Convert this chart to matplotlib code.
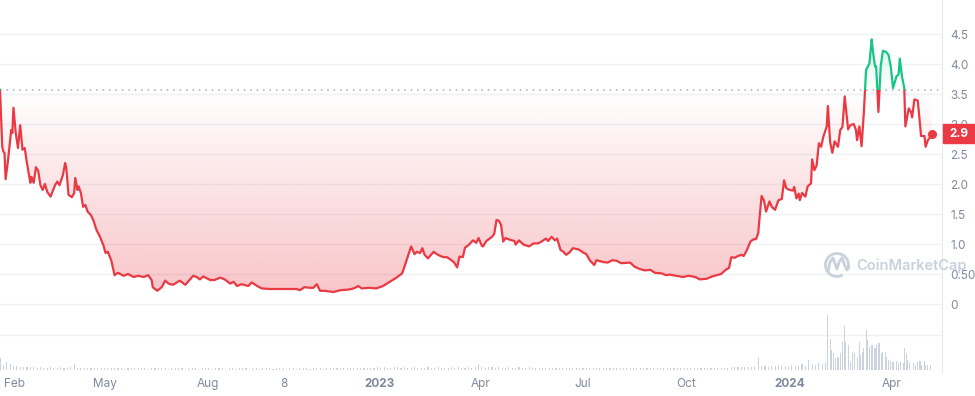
import numpy as np
import matplotlib
matplotlib.use("Agg")
import matplotlib.pyplot as plt
from matplotlib.patches import Rectangle, Arc
from matplotlib.lines import Line2D
from matplotlib.transforms import blended_transform_factory

plt.rcParams['font.family'] = ['Inter', 'DejaVu Sans']

RED = '#ea3943'
GREEN = '#16c784'
GRID = '#eff2f5'
TXT = '#808a9d'

# Data (days since 2022-01-28, price in USD)
start_date = np.datetime64('2022-01-28')
price_days = [
    0, 2, 3, 4, 5, 7, 10, 11, 12, 14, 16, 18, 20, 22, 24, 27, 28, 30, 32, 34,
    36, 38, 40, 42, 45, 49, 51, 53, 56, 58, 59, 61, 64, 66, 67, 69, 70, 72, 74, 76,
    78, 81, 83, 86, 89, 92, 94, 96, 99, 102, 105, 110, 114, 119, 123, 128, 132, 135, 136, 140,
    144, 147, 150, 154, 160, 165, 172, 175, 178, 181, 187, 191, 196, 200, 205, 208, 211, 215, 221, 224,
    229, 233, 240, 252, 264, 267, 271, 276, 279, 282, 285, 289, 297, 303, 310, 315, 319, 322, 329, 335,
    341, 347, 353, 358, 362, 366, 369, 371, 374, 376, 378, 381, 386, 389, 392, 395, 398, 401, 404, 407,
    409, 412, 414, 417, 421, 424, 426, 429, 430, 433, 438, 440, 442, 444, 446, 448, 450, 454, 458, 459,
    462, 466, 471, 475, 479, 482, 486, 488, 491, 494, 496, 499, 501, 504, 507, 510, 515, 519, 522, 525,
    529, 531, 537, 541, 545, 549, 553, 561, 565, 570, 574, 579, 583, 589, 593, 596, 602, 608, 613, 619,
    623, 629, 634, 638, 642, 646, 649, 651, 654, 657, 660, 662, 665, 668, 671, 673, 675, 676, 678, 680,
    682, 685, 687, 690, 693, 696, 698, 700, 703, 706, 707, 709, 711, 712, 714, 717, 719, 722, 723, 725,
    727, 729, 731, 733, 736, 737, 739, 741, 743, 746, 748, 750, 752, 755, 757, 760, 762, 763, 765, 767,
    769, 771, 774, 776, 777, 779, 780, 782, 784, 786, 789, 791, 793, 795, 798, 800, 801, 803, 805, 806,
    809, 811, 812, 814, 817, 818, 820, 823, 824, 826, 828, 830,
]
prices = [
    3.57, 2.62, 2.54, 2.52, 2.08, 2.37, 2.90, 2.85, 3.27, 2.85, 2.60, 2.98, 2.57, 2.60, 2.35, 2.02, 2.12, 2.02, 2.28, 2.22,
    1.98, 1.90, 2.00, 1.87, 1.79, 1.98, 2.04, 1.98, 2.15, 2.35, 2.27, 1.82, 1.78, 1.85, 2.10, 1.90, 1.96, 1.85, 1.62, 1.65,
    1.54, 1.48, 1.40, 1.23, 1.12, 0.98, 0.85, 0.87, 0.73, 0.48, 0.52, 0.47, 0.50, 0.45, 0.47, 0.45, 0.48, 0.40, 0.28, 0.22,
    0.28, 0.39, 0.34, 0.32, 0.39, 0.32, 0.47, 0.45, 0.41, 0.46, 0.40, 0.40, 0.44, 0.41, 0.34, 0.37, 0.30, 0.33, 0.30, 0.36,
    0.30, 0.26, 0.25, 0.25, 0.25, 0.23, 0.28, 0.27, 0.27, 0.33, 0.22, 0.22, 0.20, 0.23, 0.24, 0.26, 0.30, 0.26, 0.27, 0.26,
    0.30, 0.37, 0.44, 0.51, 0.73, 0.96, 0.83, 0.87, 0.85, 0.93, 0.82, 0.76, 0.87, 0.83, 0.80, 0.78, 0.78, 0.74, 0.70, 0.61,
    0.79, 0.78, 0.94, 0.98, 1.06, 1.02, 1.10, 0.97, 0.96, 1.05, 1.12, 1.17, 1.40, 1.39, 1.32, 1.04, 1.10, 1.07, 1.05, 0.99,
    1.06, 0.99, 0.96, 1.01, 1.01, 1.04, 1.09, 1.05, 1.12, 1.06, 1.09, 0.90, 0.88, 0.82, 0.86, 0.93, 0.91, 0.86, 0.83, 0.73,
    0.65, 0.73, 0.70, 0.69, 0.73, 0.72, 0.68, 0.69, 0.62, 0.58, 0.56, 0.57, 0.52, 0.51, 0.48, 0.49, 0.47, 0.45, 0.47, 0.45,
    0.41, 0.42, 0.46, 0.48, 0.50, 0.57, 0.60, 0.78, 0.77, 0.80, 0.82, 0.80, 0.90, 1.04, 1.08, 1.08, 1.18, 1.40, 1.80, 1.73,
    1.54, 1.71, 1.62, 1.57, 1.73, 1.75, 2.06, 1.93, 1.90, 1.89, 1.95, 1.76, 1.84, 1.73, 1.85, 1.79, 1.96, 2.01, 2.41, 2.23,
    2.31, 2.68, 2.62, 2.79, 2.96, 3.30, 2.70, 2.52, 2.71, 2.62, 2.90, 2.95, 3.46, 2.91, 2.98, 3.00, 2.90, 2.73, 2.96, 2.63,
    3.18, 3.90, 4.01, 4.41, 4.23, 3.96, 3.96, 3.20, 3.96, 4.22, 4.20, 4.15, 3.96, 3.60, 3.79, 3.83, 4.09, 3.79, 3.60, 2.96,
    3.26, 3.20, 3.11, 3.41, 3.39, 3.20, 2.80, 2.80, 2.62, 2.73, 2.78, 2.84,
]
base_price = 3.57

# Volume (relative units), bars every 3 days up to day 735, then denser
vol_grid_days = list(range(0, 736, 3))
vol_grid = [
    12, 5, 8, 6, 4, 4, 3, 3, 3, 3,
    3, 2, 3, 2, 2, 3, 2, 2, 3, 2, 2, 3, 6,
    2, 2, 2, 2.5, 2, 2, 2, 2, 2, 2.5, 2, 2, 2, 2, 1.5, 2, 2, 2, 2, 2,
    2, 1.5, 2, 2, 2, 2, 2, 1.5, 2, 2, 2, 2, 1.5, 2, 2, 2, 1.5, 2, 2, 2,
    1.5, 2, 2, 2, 1.5, 2, 2, 1.5, 2, 2, 2, 1.5, 2, 2, 1.5, 2, 2, 2, 1.5, 2,
    2, 2, 1.5, 2, 2, 1.5, 2, 2, 2, 1.5, 2, 2, 2, 1.5, 2, 2, 2, 2.5, 2, 2,
    2, 2, 2, 2.5, 2, 2, 2,
    2.5, 2.5, 3, 2.5, 3, 2.5, 2.5, 3, 3, 2.5, 3, 2.5, 2.5, 3, 2.5, 2.5, 2.5, 3, 2.5, 2.5,
    3, 2.5, 2.5, 2.5, 3, 2.5, 3, 2.5, 2.5, 3, 2.5, 3, 6, 3, 2.5, 3, 3, 2.5, 3, 2.5,
    2.5, 3, 2.5, 2.5, 3, 2.5, 2.5, 3, 2.5, 2.5, 2.5,
    2, 2, 2.5, 2, 2, 2, 2, 2.5, 2, 2, 2, 2, 2, 2.5, 2, 2, 2, 2, 2, 2,
    2, 2.5, 2, 2, 2, 2, 2, 2, 2.5, 2, 2, 2, 2, 2, 2, 2, 2.5, 2, 2, 2,
    2, 2, 2, 2, 2.5, 2, 2, 2, 2, 2, 2, 2, 2, 2, 2, 2,
    3, 3, 3, 3, 3, 3, 3, 3, 12, 4, 4, 3, 4, 4, 5, 4, 4, 4, 5, 4,
    4, 6, 4, 10, 6, 5, 7, 6, 8,
]
vol_tail_days = [737, 739, 740, 742, 744, 746, 748, 750, 752, 753, 755, 757, 759, 761, 763, 765, 766, 768, 769, 771,
                 772, 774, 776, 777, 779, 780, 782, 783, 785, 786, 788, 789, 791, 793, 795, 798, 800, 802, 804, 805,
                 807, 808, 810, 813, 815, 817, 819, 820, 823, 824, 826, 828]
vol_tail = [55, 31, 20, 17, 12, 13, 17, 29, 44, 28, 25, 8, 18, 17, 13, 28, 15, 18, 22, 40,
            30, 23, 25, 25, 22, 25, 27, 27, 17, 18, 18, 13, 10, 9, 8, 9, 7, 8, 7, 22,
            17, 10, 7, 7, 5, 8, 9, 5, 9, 5, 5, 5]

y_ticks = [0, 0.5, 1.0, 1.5, 2.0, 2.5, 3.0, 3.5, 4.0, 4.5]
y_labels = ['0', '0.50', '1.0', '1.5', '2.0', '2.5', '3.0', '3.5', '4.0', '4.5']
x_tick_dates = ['2022-02-01', '2022-05-01', '2022-08-01', '2022-10-08', '2023-01-01',
                '2023-04-01', '2023-07-01', '2023-10-01', '2024-01-01', '2024-04-01']
x_labels = ['Feb', 'May', 'Aug', '8', '2023', 'Apr', 'Jul', 'Oct', '2024', 'Apr']

days = np.array(price_days, dtype=float)
p = np.array(prices)
vol_days = np.array(vol_grid_days + vol_tail_days, dtype=float)
vol = np.array(vol_grid + vol_tail, dtype=float)

fig = plt.figure(figsize=(9.75, 3.96), dpi=100)
rect = [0, 1 - 372 / 396, 942 / 975, 372 / 396]
ax = fig.add_axes(rect)
ax_v = fig.add_axes(rect, sharex=ax)
ax_v.patch.set_visible(False)
ax_v.axis('off')

x_end = 838.6
ax.set_xlim(0, x_end)
ax.set_ylim(-1.1333, 5.0667)
ax_v.set_ylim(-2, 370)

# grid
for g in [-0.5167] + y_ticks:
    ax.axhline(g, color=GRID, lw=1, zorder=0)

# volume
ax_v.bar(vol_days, vol, width=1.0, color='#cbd3df', linewidth=0)

# gradient fills clipped to area between line and baseline
red_poly = ax.fill_between(days, np.minimum(p, base_price), base_price, color='none', lw=0)
green_poly = ax.fill_between(days, np.maximum(p, base_price), base_price, color='none', lw=0)

n = 256
grad = np.zeros((n, 1, 4))
grad[:, 0, :3] = matplotlib.colors.to_rgb(RED)
grad[:, 0, 3] = np.linspace(0.30, 0.0, n)
im_r = ax.imshow(grad, extent=[0, x_end, 0.1, base_price], origin='lower', aspect='auto', zorder=1)
im_r.set_clip_path(red_poly.get_paths()[0], transform=ax.transData)

grad_g = np.zeros((n, 1, 4))
grad_g[:, 0, :3] = matplotlib.colors.to_rgb(GREEN)
grad_g[:, 0, 3] = np.linspace(0.0, 0.18, n)
im_g = ax.imshow(grad_g, extent=[0, x_end, base_price, 4.45], origin='lower', aspect='auto', zorder=1)
im_g.set_clip_path(green_poly.get_paths()[0], transform=ax.transData)

ax.set_xlim(0, x_end)
ax.set_ylim(-1.1333, 5.0667)

# baseline
ax.axhline(base_price, color='#a6adb9', lw=1.1, linestyle=(0, (1, 3.2)), zorder=2)

# price line, coloured by side of baseline
ln_r, = ax.plot(days, p, color=RED, lw=1.6, zorder=3, solid_joinstyle='round')
clip_r = Rectangle((0, -5), 1000, base_price + 5, transform=ax.transData)
ln_r.set_clip_path(clip_r)
ln_g, = ax.plot(days, p, color=GREEN, lw=1.6, zorder=3, solid_joinstyle='round')
clip_g = Rectangle((0, base_price), 1000, 10, transform=ax.transData)
ln_g.set_clip_path(clip_g)
ax.plot(days[-1], p[-1], 'o', color=RED, ms=5.5, zorder=4)

# axes styling
for s in ['top', 'left', 'bottom']:
    ax.spines[s].set_visible(False)
ax.spines['right'].set_color('#e6e9ee')
ax.patch.set_visible(False)
ax.yaxis.tick_right()
ax.set_yticks(y_ticks)
ax.set_yticklabels(y_labels)
ax.tick_params(axis='y', length=0, pad=6, labelsize=8.5, labelcolor=TXT)

tick_days = [(np.datetime64(d) - start_date).astype(int) for d in x_tick_dates]
ax.set_xticks(tick_days)
ax.set_xticklabels(x_labels)
ax.tick_params(axis='x', length=0, pad=4, labelsize=8.5, labelcolor=TXT)
for lbl in ax.get_xticklabels():
    if lbl.get_text() in ('2023', '2024'):
        lbl.set_fontweight('bold')
ax.get_xticklabels()[0].set_horizontalalignment('left')

# last price tag
bt = blended_transform_factory(ax.transAxes, ax.transData)
tag = Rectangle((1.001, p[-1] - 0.158), 0.036, 0.317, transform=bt, color=RED,
                clip_on=False, zorder=10)
ax.add_patch(tag)
ax.text(1.018, p[-1], '2.9', transform=bt, color='white', fontsize=8.5, fontweight='bold',
        ha='center', va='center', zorder=11, clip_on=False)

# watermark (drawn in inches from the bottom-left corner)
wm = '#c9d1dd'
tr = fig.dpi_scale_trans
fig.patches.append(Arc((8.37, 1.31), 0.23, 0.23, theta1=-20, theta2=300, transform=tr,
                       ec=wm, lw=2.0, zorder=5))
fig.lines.append(Line2D([8.28, 8.30, 8.33, 8.355, 8.37, 8.39, 8.42, 8.445, 8.47, 8.49],
                        [1.24, 1.34, 1.38, 1.31, 1.27, 1.34, 1.38, 1.31, 1.26, 1.29],
                        transform=tr, color=wm, lw=2.0, solid_joinstyle='round',
                        solid_capstyle='round', zorder=5))
fig.text(856 / 975, 1 - 266 / 396, 'CoinMarketCap', color=wm, fontsize=10.5,
         fontweight='semibold', ha='left', va='center', zorder=5)

fig.savefig('out.png', dpi=100)
